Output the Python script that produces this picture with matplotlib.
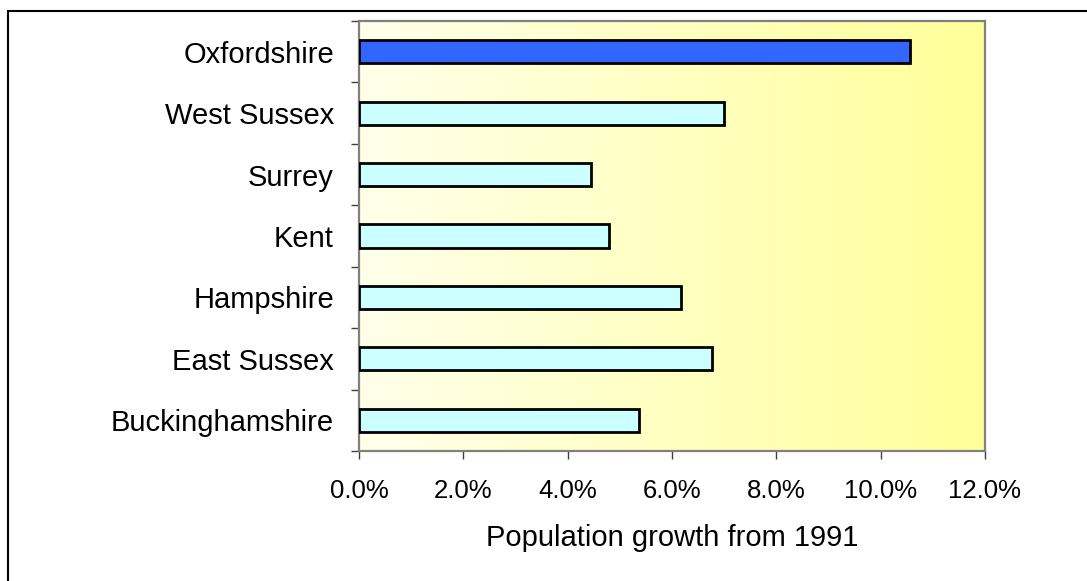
import numpy as np
import matplotlib
matplotlib.use("Agg")
import matplotlib.pyplot as plt
from matplotlib.patches import Rectangle
from matplotlib.ticker import FixedLocator, PercentFormatter

plt.rcParams["font.family"] = ["Liberation Sans", "DejaVu Sans"]

# data, bottom to top as drawn
counties = ["Buckinghamshire", "East Sussex", "Hampshire", "Kent",
            "Surrey", "West Sussex", "Oxfordshire"]
growth = [5.36, 6.76, 6.17, 4.79, 4.44, 6.99, 10.57]
highlight = "Oxfordshire"
xticks = [0, 2, 4, 6, 8, 10, 12]

W, H = 1087, 581
fig = plt.figure(figsize=(W / 100, H / 100), dpi=100, facecolor="white")
ax = fig.add_axes([359 / W, 1 - 451 / H, (985 - 359) / W, (451 - 21) / H])

# pale cream -> yellow gradient behind the bars
grad = np.linspace(0, 1, 256)[None, :, None]
left = np.array([1.0, 1.0, 0.92])
right = np.array([1.0, 1.0, 0.60])
img = left + grad * (right - left)
ax.imshow(img, extent=[0, 1, 0, 1], transform=ax.transAxes, aspect="auto", zorder=0)

y = np.arange(len(counties))
colors = ["#3366ff" if c == highlight else "#ccffff" for c in counties]
ax.barh(y, growth, height=0.375, color=colors, edgecolor="black", linewidth=2, zorder=3)

ax.set_xlim(0, 12)
ax.set_ylim(-0.5, len(counties) - 0.5)
ax.set_xticks(xticks)
ax.xaxis.set_major_formatter(PercentFormatter(decimals=1))
ax.yaxis.set_major_locator(FixedLocator(np.arange(-0.5, len(counties), 1.0)))
ax.yaxis.set_major_formatter(plt.NullFormatter())
ax.yaxis.set_minor_locator(FixedLocator(y))
ax.set_yticks(y, counties, minor=True)
ax.tick_params(axis="y", which="major", length=5.5, width=1, color="#404040", direction="out")
ax.tick_params(axis="y", which="minor", length=0, pad=18, labelsize=21)
ax.tick_params(axis="x", length=6, width=1, color="#404040", direction="out", pad=14, labelsize=18.5)
for s in ax.spines.values():
    s.set_color("#808080")
    s.set_linewidth(1.6)
ax.set_xlabel("Population growth from 1991", fontsize=21, labelpad=15)

# outer chart border (only left and top are inside the image)
fig.patches.append(Rectangle((8 / W, -0.1), 1.2, 1 - 11 / H + 0.1, transform=fig.transFigure,
                             fill=False, edgecolor="black", linewidth=1.5))

fig.savefig("out.png", dpi=100)
